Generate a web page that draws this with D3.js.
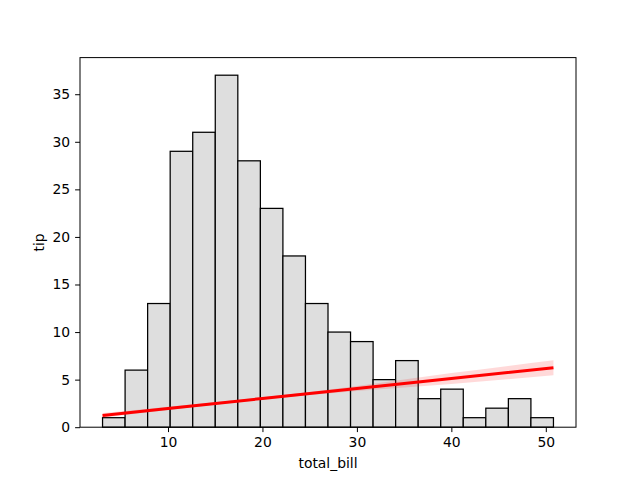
<!DOCTYPE html>
<html>
<head>
<meta charset="utf-8">
<script src="https://cdn.jsdelivr.net/npm/d3@7"></script>
<style>
  body { margin: 0; background: #fff; }
  text { font-family: "DejaVu Sans", sans-serif; }
</style>
</head>
<body>
<svg id="chart" width="640" height="480"></svg>
<script>
// histogram of total_bill (20 bins)
var binStart = 3.07;
var binEnd = 50.81;
var binCounts = [1, 6, 13, 29, 31, 37, 28, 23, 18, 13, 10, 9, 5, 7, 3, 4, 1, 2, 3, 1];

// regression line tip ~ total_bill, with its confidence band
var fitX = [3.07, 10, 20, 30, 40, 50.81];
var fitY = [1.24, 1.97, 3.02, 4.07, 5.12, 6.25];
var ciLow = [1.0, 1.8, 2.9, 3.8, 4.55, 5.47];
var ciHigh = [1.48, 2.14, 3.14, 4.34, 5.69, 7.03];

var xTicks = [10, 20, 30, 40, 50];
var yTicks = [0, 5, 10, 15, 20, 25, 30, 35];

(function () {
    var plotLeft = 80, plotRight = 576, plotTop = 57.6, plotBottom = 427.2;

    var svg = d3.select("#chart");

    // matplotlib style 5% margins on x
    var pad = (binEnd - binStart) * 0.05;
    var x = d3.scaleLinear().domain([binStart - pad, binEnd + pad]).range([plotLeft, plotRight]);
    var y = d3.scaleLinear().domain([0, d3.max(binCounts) * 1.05]).range([plotBottom, plotTop]);

    var binW = (binEnd - binStart) / binCounts.length;
    var bins = binCounts.map(function (c, i) {
        return {x0: binStart + i * binW, x1: binStart + (i + 1) * binW, count: c};
    });

    svg.append("g").selectAll("rect")
        .data(bins)
        .enter()
        .append("rect")
        .attr("x", function (d) { return x(d.x0); })
        .attr("y", function (d) { return y(d.count); })
        .attr("width", function (d) { return x(d.x1) - x(d.x0); })
        .attr("height", function (d) { return y(0) - y(d.count); })
        .attr("fill", "#dedede")
        .attr("stroke", "#000")
        .attr("stroke-width", 1.25);

    // confidence band + fit line
    var fit = fitX.map(function (v, i) {
        return {x: v, y: fitY[i], lo: ciLow[i], hi: ciHigh[i]};
    });

    var band = d3.area()
        .x(function (d) { return x(d.x); })
        .y0(function (d) { return y(d.lo); })
        .y1(function (d) { return y(d.hi); })
        .curve(d3.curveMonotoneX);

    svg.append("path")
        .datum(fit)
        .attr("d", band)
        .attr("fill", "red")
        .attr("fill-opacity", 0.15);

    var line = d3.line()
        .x(function (d) { return x(d.x); })
        .y(function (d) { return y(d.y); });

    svg.append("path")
        .datum(fit)
        .attr("d", line)
        .attr("fill", "none")
        .attr("stroke", "red")
        .attr("stroke-width", 3);

    // axes
    var xAxis = svg.append("g")
        .attr("transform", "translate(0," + plotBottom + ")")
        .call(d3.axisBottom(x).tickValues(xTicks).tickSize(4.9).tickPadding(4.9));

    var yAxis = svg.append("g")
        .attr("transform", "translate(" + plotLeft + ",0)")
        .call(d3.axisLeft(y).tickValues(yTicks).tickSize(4.9).tickPadding(4.9));

    [xAxis, yAxis].forEach(function (ax) {
        ax.select(".domain").remove();
        ax.selectAll("line").attr("stroke", "#000").attr("stroke-width", 1);
        ax.selectAll("text")
            .attr("font-size", 13.9)
            .attr("fill", "#000")
            .style("font-family", "DejaVu Sans, sans-serif");
    });

    // frame
    svg.append("rect")
        .attr("x", plotLeft)
        .attr("y", plotTop)
        .attr("width", plotRight - plotLeft)
        .attr("height", plotBottom - plotTop)
        .attr("fill", "none")
        .attr("stroke", "#000")
        .attr("stroke-width", 1);

    svg.append("text")
        .attr("x", (plotLeft + plotRight) / 2)
        .attr("y", 468)
        .attr("text-anchor", "middle")
        .attr("font-size", 13.9)
        .text("total_bill");

    svg.append("text")
        .attr("transform", "translate(44," + (plotTop + plotBottom) / 2 + ") rotate(-90)")
        .attr("text-anchor", "middle")
        .attr("font-size", 13.9)
        .text("tip");
})();
</script>
</body>
</html>
